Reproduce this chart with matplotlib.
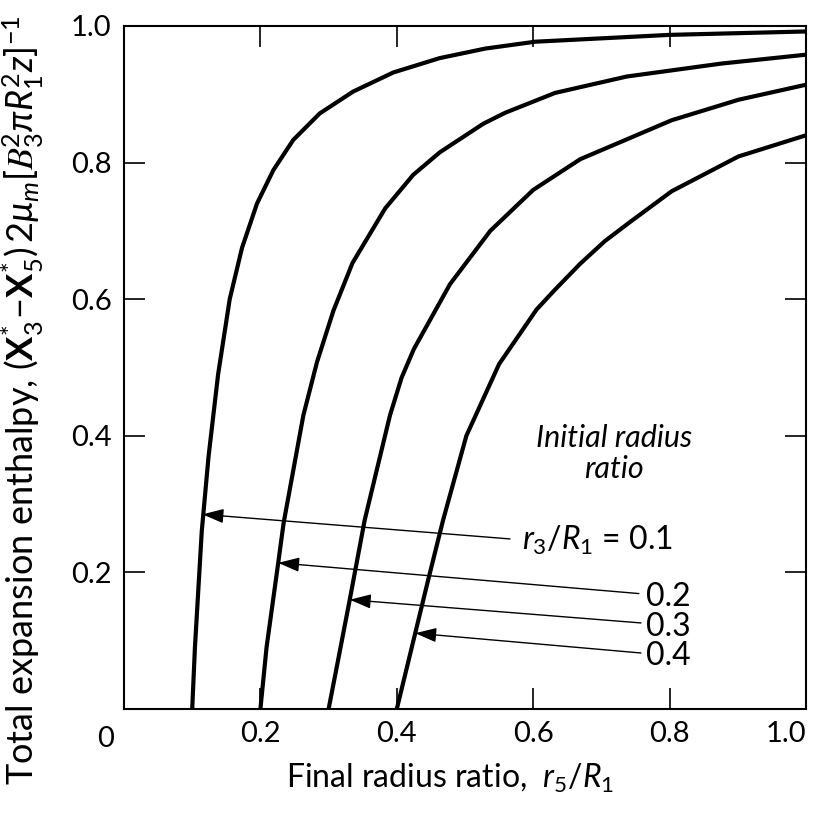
import matplotlib
matplotlib.use("Agg")
import matplotlib.pyplot as plt

plt.rcParams['font.family'] = ['Lato', 'DejaVu Sans']
plt.rcParams['mathtext.fontset'] = 'custom'
plt.rcParams['mathtext.rm'] = 'Lato'
plt.rcParams['mathtext.it'] = 'Lato:italic'
plt.rcParams['mathtext.bf'] = 'Lato:bold'
plt.rcParams['mathtext.cal'] = 'STIXGeneral:italic'

# values
ratios = ['0.1', '0.2', '0.3', '0.4']

x_01 = [0.10, 0.104, 0.114, 0.124, 0.138, 0.155, 0.173, 0.195, 0.219, 0.248, 0.287,
        0.336, 0.395, 0.463, 0.53, 0.603, 0.80, 1.0]
y_01 = [0.0, 0.09, 0.26, 0.37, 0.49, 0.60, 0.675, 0.740, 0.789, 0.833, 0.872,
        0.904, 0.932, 0.953, 0.967, 0.977, 0.987, 0.992]

x_02 = [0.20, 0.209, 0.226, 0.234, 0.263, 0.283, 0.307, 0.335, 0.383, 0.424, 0.463,
        0.527, 0.559, 0.632, 0.737, 0.876, 1.0]
y_02 = [0.0, 0.09, 0.213, 0.272, 0.43, 0.508, 0.583, 0.653, 0.733, 0.782, 0.815,
        0.857, 0.873, 0.902, 0.926, 0.945, 0.958]

x_03 = [0.30, 0.314, 0.331, 0.353, 0.390, 0.407, 0.425, 0.478, 0.537, 0.600, 0.669,
        0.803, 0.901, 1.0]
y_03 = [0.0, 0.072, 0.160, 0.277, 0.43, 0.485, 0.527, 0.622, 0.700, 0.760, 0.805,
        0.862, 0.892, 0.914]

x_04 = [0.40, 0.427, 0.446, 0.468, 0.502, 0.55, 0.605, 0.632, 0.669, 0.705, 0.742,
        0.803, 0.901, 1.0]
y_04 = [0.0, 0.111, 0.189, 0.277, 0.40, 0.505, 0.585, 0.614, 0.652, 0.685, 0.713,
        0.758, 0.809, 0.84]

# arrow tips (on curves) and tails (at labels)
tips = [(0.115, 0.285), (0.226, 0.214), (0.331, 0.160), (0.427, 0.111)]
tails = [(0.566, 0.249), (0.755, 0.169), (0.758, 0.126), (0.758, 0.082)]
label_pos = [(0.584, 0.247), (0.765, 0.164), (0.765, 0.120), (0.765, 0.078)]

xticks = [0.2, 0.4, 0.6, 0.8, 1.0]
xticklabels = ['0.2', '0.4', '0.6', '0.8', '1.0']
yticks = [0.2, 0.4, 0.6, 0.8, 1.0]
yticklabels = ['0.2', '0.4', '0.6', '0.8', '1.0']

fig = plt.figure(figsize=(8.13, 8.14), dpi=100)
ax = fig.add_axes([124/813, 1-709/814, 682/813, 683/814])

for xs, ys in [(x_01, y_01), (x_02, y_02), (x_03, y_03), (x_04, y_04)]:
    ax.plot(xs, ys, color='black', lw=3.0, solid_capstyle='round', solid_joinstyle='round')

for i in range(4):
    ax.annotate('', xy=tips[i], xytext=tails[i],
                arrowprops=dict(arrowstyle='-|>,head_length=0.65,head_width=0.22',
                                color='black', lw=1.0, mutation_scale=20,
                                shrinkA=0, shrinkB=0))
    if i == 0:
        txt = r'$r_3/R_1$ = ' + ratios[i]
    else:
        txt = ratios[i]
    ax.text(label_pos[i][0], label_pos[i][1], txt, fontsize=23, va='center', ha='left')

ax.text(0.718, 0.397, 'Initial radius', fontsize=22, style='italic', ha='center', va='center')
ax.text(0.718, 0.352, 'ratio', fontsize=22, style='italic', ha='center', va='center')

ax.set_xlim(0, 1.0)
ax.set_ylim(0, 1.0)
ax.set_xticks(xticks)
ax.set_xticklabels(xticklabels)
ax.set_yticks(yticks)
ax.set_yticklabels(yticklabels)
ax.tick_params(direction='in', length=15, width=1.2, top=True, right=True,
               labelsize=21, pad=9)
ax.get_xticklabels()[-1].set_horizontalalignment('right')
ax.text(-0.027, -0.025, '0', fontsize=21, ha='center', va='top', transform=ax.transAxes)
for s in ax.spines.values():
    s.set_linewidth(1.5)

fig.text(450/813, 1-778/814, r'Final radius ratio,  $r_5/R_1$', fontsize=23,
         ha='center', va='center')
fig.text(23/813, 1-400/814,
         r'Total expansion enthalpy, $(\mathbf{X}_3^{*}\!-\!\mathbf{X}_5^{*})\,2\mu_m[\mathcal{B}_3^2\pi R_1^2 z]^{-1}$',
         fontsize=26, rotation=90, ha='center', va='center')

fig.savefig('out.png', dpi=100)
